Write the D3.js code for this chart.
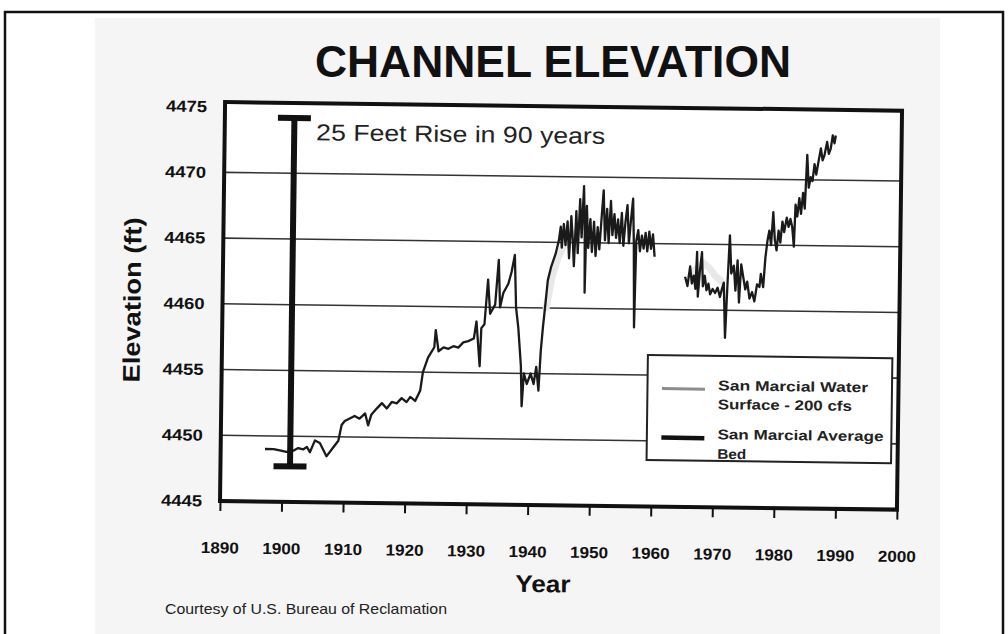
<!DOCTYPE html>
<html><head><meta charset="utf-8">
<script src="https://cdn.jsdelivr.net/npm/d3@7"></script>
<style>body{margin:0;background:#fff} svg{display:block} text{font-family:"Liberation Sans",Arial,Helvetica,sans-serif}</style>
</head><body><svg id="c" width="1008" height="634"></svg>
<script>
const title = "CHANNEL ELEVATION";
const xTitle = "Year";
const yTitle = "Elevation (ft)";
const credit = "Courtesy of U.S. Bureau of Reclamation";
const xTicks = [1890,1900,1910,1920,1930,1940,1950,1960,1970,1980,1990,2000];
const yTicks = [4445,4450,4455,4460,4465,4470,4475];
const gridValues = [4450,4455,4460,4465,4470];
const legendLabels = [["San Marcial Water","Surface - 200 cfs"],["San Marcial Average","Bed"]];
const riseLabel = "25 Feet Rise in 90 years";
const riseYear = 1901.3, riseLow = 4447.7, riseHigh = 4474.2;

// San Marcial Average Bed (null = gap in record)
const bedYears = [1897.2,1898.6,1899.6,1900.7,1901.8,1902.6,1903.4,1904.0,1904.5,1905.3,1906.1,1907.2,1908.3,1909.1,1909.6,1910.1,1910.9,1911.7,1912.5,1913.4,1913.9,1914.4,1915.3,1916.1,1916.9,1917.7,1918.5,1919.3,1920.1,1920.7,1921.5,1922.3,1922.7,1923.5,1924.5,1924.7,1925.2,1926.0,1926.8,1927.6,1928.4,1929.2,1930.0,1930.9,1931.3,1931.9,1932.1,1932.6,1933.1,1933.5,1934.3,1934.8,1935.1,1935.6,1936.4,1936.9,1937.4,1937.7,1938.1,1938.6,1938.8,1939.1,1939.6,1940.2,1940.7,1941.1,1941.5,1941.8,1942.1,1942.5,1942.8,1943.3,1944.0,
1944.5,1944.8,1945.0,1945.3,1945.6,1945.9,1946.2,1946.5,1946.8,1947.0,1947.3,1947.6,1947.9,1948.2,1948.5,1948.7,1948.8,1949.0,1949.3,1949.6,1949.9,1950.2,1950.5,1950.8,1951.1,1951.4,1951.7,1952.0,1952.3,1952.6,1952.9,1953.2,1953.5,1953.8,1954.1,1954.4,1954.7,1955.0,1955.3,1955.6,1955.9,1956.2,1956.5,1956.7,1956.9,1957.1,1957.4,1957.7,1958.0,1958.3,1958.6,1958.9,1959.2,1959.5,1959.8,1960.1,
null,
1965.1,1965.5,1965.9,1966.2,1966.5,1966.8,1967.0,1967.2,1967.5,1967.8,1968.0,1968.3,1968.6,1968.9,1969.2,1969.6,1970.0,1970.4,1970.8,1971.1,1971.4,1971.7,1972.0,1972.3,1972.6,1973.0,1973.3,1973.6,1973.9,1974.2,1974.6,1974.9,1975.2,1975.6,1976.0,1976.4,1976.8,1977.2,1977.4,1977.8,1978.1,1978.4,1978.7,1979.0,1979.3,1979.6,1979.9,1980.2,1980.5,1980.8,1981.1,1981.5,1981.8,1982.1,1982.4,1982.7,1982.9,1983.2,1983.5,1983.8,1984.1,1984.4,1984.7,1985.0,1985.3,1985.6,1985.9,1986.2,1986.5,1986.9,1987.2,1987.5,1987.9,1988.2,1988.5,1988.8,1989.1,1989.3];
const bedElev = [4449.0,4449.0,4448.9,4448.8,4448.9,4449.1,4449.0,4449.2,4448.8,4449.7,4449.5,4448.5,4449.2,4449.7,4450.9,4451.2,4451.4,4451.6,4451.4,4451.8,4450.9,4451.7,4452.2,4452.6,4452.2,4452.7,4452.6,4453.0,4452.7,4453.1,4452.8,4453.6,4455.0,4456.1,4456.9,4458.2,4456.6,4456.9,4456.8,4457.0,4456.9,4457.3,4457.4,4457.6,4458.9,4455.5,4458.4,4458.7,4462.1,4459.5,4460.2,4463.6,4460.0,4461.1,4461.8,4462.7,4464.0,4460.0,4458.5,4455.6,4452.5,4455.0,4454.2,4455.0,4454.2,4455.5,4453.7,4456.7,4458.5,4460.5,4462.1,4463.1,4464.1,
4465.1,4466.2,4464.6,4466.4,4464.8,4466.6,4463.8,4467.0,4465.0,4463.2,4467.4,4464.2,4468.3,4465.4,4469.3,4466.0,4461.2,4467.8,4464.6,4466.8,4464.3,4466.6,4464.0,4466.2,4464.5,4466.8,4469.0,4465.2,4467.6,4465.0,4468.2,4465.6,4467.2,4465.4,4466.8,4465.0,4467.3,4464.8,4466.6,4467.9,4465.0,4466.8,4468.4,4465.0,4458.6,4465.2,4466.0,4464.4,4465.6,4464.6,4465.8,4464.4,4465.9,4464.6,4465.7,4464.0,
null,
4462.5,4461.8,4463.3,4462.0,4462.6,4461.6,4464.4,4461.0,4463.0,4464.4,4461.8,4462.6,4461.5,4462.0,4461.2,4461.6,4461.3,4461.7,4461.0,4461.6,4462.1,4457.9,4462.0,4465.7,4462.8,4463.4,4461.5,4463.8,4460.6,4463.5,4462.4,4461.6,4462.2,4460.9,4461.4,4460.7,4462.0,4461.8,4462.8,4461.8,4464.0,4465.3,4466.1,4465.0,4467.5,4465.4,4464.6,4466.1,4465.2,4466.8,4466.0,4467.1,4466.4,4467.0,4466.4,4464.9,4468.1,4467.2,4468.6,4467.4,4469.0,4467.8,4471.9,4469.4,4470.2,4469.9,4471.2,4470.4,4471.3,4472.4,4471.5,4471.9,4472.9,4472.0,4472.4,4473.4,4472.8,4473.4];

// San Marcial Water Surface - 200 cfs (faint in the scan)
const waterYears = [1942.6,1943.5,1944.4,1945.4,1946.4,1947.4,1948.3,null,1966.0,1967.0,1968.0,1969.0,1970.0,1971.0];
const waterElev = [4460.0,4462.4,4463.8,4464.8,4465.4,4465.8,4466.2,null,4462.6,4463.2,4463.6,4463.2,4462.6,4462.2];

const svg = d3.select("#c");
svg.append("rect").attr("width",1008).attr("height",634).attr("fill","#fff");
svg.append("rect").attr("x",95).attr("y",18).attr("width",845).attr("height",620).attr("fill","#f5f5f5");
svg.append("rect").attr("x",5).attr("y",12).attr("width",998).attr("height",640)
  .attr("fill","none").attr("stroke","#111").attr("stroke-width",2.5);
svg.append("text").attr("x",553).attr("y",77).attr("text-anchor","middle")
  .attr("font-size",44).attr("font-weight","bold").attr("fill","#111")
  .attr("textLength",476).attr("lengthAdjust","spacingAndGlyphs").text(title);
svg.append("text").attr("x",165).attr("y",614).attr("font-size",15).attr("fill","#222")
  .attr("textLength",282).attr("lengthAdjust","spacingAndGlyphs").text(credit);

const g = svg.append("g").attr("transform","rotate(0.73,220,501)");
const x = d3.scaleLinear().domain([1890,2000]).range([220,897]);
const y = d3.scaleLinear().domain([4445,4475.35]).range([501,102]);

g.append("rect").attr("x",x(1890)).attr("y",y(4475.35)).attr("width",x(2000)-x(1890))
  .attr("height",y(4445)-y(4475.35)).attr("fill","#fff");

g.append("g").selectAll("line").data(gridValues).join("line")
  .attr("x1",x(1890)).attr("x2",x(2000)).attr("y1",d=>y(d)).attr("y2",d=>y(d))
  .attr("stroke","#333").attr("stroke-width",1.6);

const mk = (ys, es) => ys.map((d,i)=>({yr:d, el:es[i]}));
const line = d3.line().defined(d=>d.yr!==null && d.el!==null).x(d=>x(d.yr)).y(d=>y(d.el));

g.append("path").datum(mk(waterYears,waterElev)).attr("d",line)
  .attr("fill","none").attr("stroke","#e8e8e8").attr("stroke-width",7)
  .attr("stroke-linejoin","round").attr("stroke-linecap","round");
g.append("path").datum(mk(bedYears,bedElev)).attr("d",line)
  .attr("fill","none").attr("stroke","#1a1a1a").attr("stroke-width",2.3)
  .attr("stroke-linejoin","round");

// annotation bar
const bx = x(riseYear);
g.append("line").attr("x1",bx).attr("x2",bx).attr("y1",y(riseLow)).attr("y2",y(riseHigh))
  .attr("stroke","#111").attr("stroke-width",6);
[riseLow, riseHigh].forEach(v=>{
  g.append("line").attr("x1",bx-16.5).attr("x2",bx+16.5).attr("y1",y(v)).attr("y2",y(v))
    .attr("stroke","#111").attr("stroke-width",6);
});
g.append("text").attr("x",311.5).attr("y",139).attr("font-size",23).attr("fill","#222")
  .attr("textLength",289).attr("lengthAdjust","spacingAndGlyphs").text(riseLabel);

// frame
g.append("rect").attr("x",x(1890)).attr("y",y(4475.35)).attr("width",x(2000)-x(1890))
  .attr("height",y(4445)-y(4475.35)).attr("fill","none").attr("stroke","#111").attr("stroke-width",4);

// axes
const xa = g.append("g").attr("transform",`translate(0,${y(4445)})`)
  .call(d3.axisBottom(x).tickValues(xTicks).tickSize(10).tickPadding(31).tickFormat(d3.format("d")));
xa.select(".domain").remove();
xa.selectAll("line").attr("stroke","#111").attr("stroke-width",2);
xa.selectAll("text").attr("font-size",16).attr("font-weight","bold").attr("fill","#111")
  .attr("font-family","Liberation Sans, Arial, sans-serif")
  .attr("textLength",38).attr("lengthAdjust","spacingAndGlyphs");

const ya = g.append("g").attr("transform",`translate(${x(1890)},0)`)
  .call(d3.axisLeft(y).tickValues(yTicks).tickSize(0).tickPadding(18).tickFormat(d3.format("d")));
ya.select(".domain").remove();
ya.selectAll("text").attr("font-size",16).attr("font-weight","bold").attr("fill","#111")
  .attr("font-family","Liberation Sans, Arial, sans-serif")
  .attr("textLength",41).attr("lengthAdjust","spacingAndGlyphs");

g.append("text").attr("x",544).attr("y",588).attr("text-anchor","middle")
  .attr("font-size",24).attr("font-weight","bold").attr("fill","#111")
  .attr("textLength",55).attr("lengthAdjust","spacingAndGlyphs").text(xTitle);
g.append("text").attr("transform","translate(138,301) rotate(-90)").attr("text-anchor","middle")
  .attr("font-size",24).attr("font-weight","bold").attr("fill","#111")
  .attr("textLength",165).attr("lengthAdjust","spacingAndGlyphs").text(yTitle);

// legend
const lg = g.append("g");
lg.append("rect").attr("x",646).attr("y",349.6).attr("width",244.5).attr("height",105)
  .attr("fill","#fff").attr("stroke","#222").attr("stroke-width",2);
lg.append("line").attr("x1",660.5).attr("x2",703.5).attr("y1",383).attr("y2",383)
  .attr("stroke","#8c8c8c").attr("stroke-width",3);
lg.append("line").attr("x1",660.5).attr("x2",703.5).attr("y1",432).attr("y2",432)
  .attr("stroke","#111").attr("stroke-width",4.5);
const legendText = [[384,150],[402.8,134],[432.8,166],[452.5,29]];
const flat = legendLabels.flat();
lg.selectAll("text").data(flat).join("text")
  .attr("x",716.6).attr("y",(d,i)=>legendText[i][0]).attr("font-size",14).attr("font-weight","bold")
  .attr("fill","#222").attr("textLength",(d,i)=>legendText[i][1]).attr("lengthAdjust","spacingAndGlyphs")
  .text(d=>d);
</script></body></html>
